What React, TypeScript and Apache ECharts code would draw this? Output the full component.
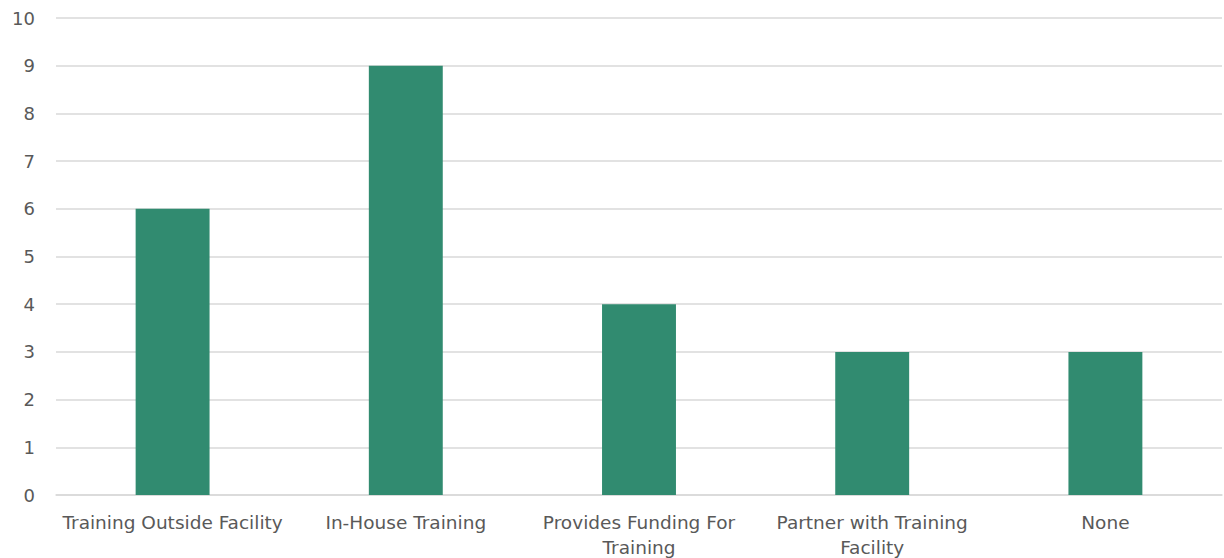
import React, { useEffect, useRef } from "react";
import * as echarts from "echarts";

const categories = [
  "Training Outside Facility",
  "In-House Training",
  "Provides Funding For\nTraining",
  "Partner with Training\nFacility",
  "None",
];
const values = [6, 9, 4, 3, 3];
const yTicks = { min: 0, max: 10, interval: 1 };

export default function App() {
  const ref = useRef<HTMLDivElement>(null);
  useEffect(() => {
    const chart = echarts.init(ref.current!, null, { renderer: "svg" });
    const font = "'DejaVu Sans', sans-serif";
    chart.setOption({
      animation: false,
      grid: {
        left: 56,
        right: 2,
        top: 18,
        bottom: 63,
        containLabel: false,
        outerBoundsMode: "none",
      },
      xAxis: {
        type: "category",
        data: categories,
        axisLine: { show: true, lineStyle: { color: "#d9d9d9", width: 1.5 } },
        axisTick: { show: false },
        axisLabel: {
          color: "#595959",
          fontSize: 18.5,
          fontFamily: font,
          margin: 15,
          lineHeight: 25,
          interval: 0,
        },
      },
      yAxis: {
        type: "value",
        min: yTicks.min,
        max: yTicks.max,
        interval: yTicks.interval,
        axisLine: { show: false },
        axisTick: { show: false },
        splitLine: { lineStyle: { color: "#d9d9d9", width: 1.5 } },
        axisLabel: {
          color: "#595959",
          fontSize: 18,
          fontFamily: font,
          margin: 21,
        },
      },
      series: [
        {
          type: "bar",
          data: values,
          barWidth: "31.7%",
          itemStyle: { color: "#318B70" },
        },
      ],
    });
    return () => chart.dispose();
  }, []);
  return (
    <div
      ref={ref}
      style={{ position: "fixed", left: 0, top: 0, width: 1224, height: 558, background: "#fff" }}
    />
  );
}
